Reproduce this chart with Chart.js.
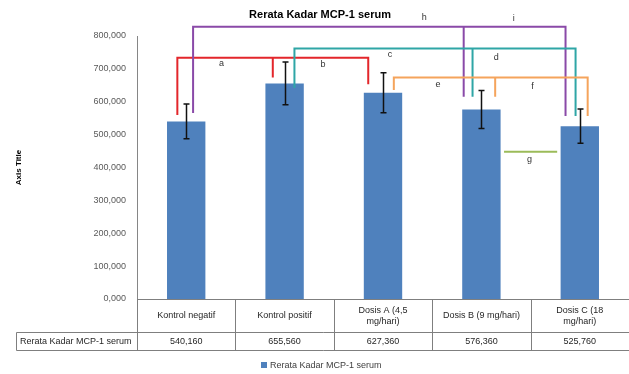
<!DOCTYPE html>
<html>
<head>
<meta charset="utf-8">
<script src="https://cdn.jsdelivr.net/npm/chart.js@4/dist/chart.umd.min.js"></script>
<style>
  html, body { margin: 0; padding: 0; background: #ffffff; }
  #wrap { width: 629px; height: 374px; }
</style>
</head>
<body>
<div id="wrap"><canvas id="c" width="629" height="374"></canvas></div>
<script>
// Groups, each split into the lines shown in the table cell
const categories = [
  ['Kontrol negatif'],
  ['Kontrol positif'],
  ['Dosis A (4,5', 'mg/hari)'],
  ['Dosis B (9 mg/hari)'],
  ['Dosis C (18', 'mg/hari)']
];
const seriesName = 'Rerata Kadar MCP-1 serum';
const meanValues = [540.16, 655.56, 627.36, 576.36, 525.76];
const errorValues = [53, 65, 61, 58, 52];
const yTickMin = 0;
const yTickMax = 800;
const yTickStep = 100;

// Significance brackets: horizontal level and leg ends in value units,
// leg positions in category-index units
const bracketLevels = [734, 828, 762, 674];
const bracketLegs = [
  [[-0.09, 560], [0.88, 674], [1.85, 653]],
  [[0.07, 566], [2.82, 615], [3.855, 557]],
  [[1.10, 642], [2.91, 615], [3.957, 557]],
  [[2.11, 636], [3.14, 615], [4.08, 557]]
];
const bracketLabels = [
  [['a', 0.36, 717], ['b', 1.39, 712]],
  [['h', 2.42, 855], ['i', 3.33, 852]],
  [['c', 2.07, 744], ['d', 3.15, 734]],
  [['e', 2.56, 653], ['f', 3.52, 647]]
];
const bracketColors = ['#e3262b', '#8a4aa8', '#2fa6a6', '#f5a45c'];
// Single comparison line between the last two groups
const pairLine = { from: 3.23, to: 3.77, level: 448, label: 'g', labelX: 3.49, labelY: 425 };
const pairColor = '#9bbb59';

const FONT = '"Liberation Sans", Arial, sans-serif';
const fmt = v => Number(v).toFixed(3).replace('.', ',');

const extras = {
  id: 'extras',
  afterDatasetsDraw(chart) {
    const ctx = chart.ctx;
    const xs = chart.scales.x, ys = chart.scales.y;
    const meta = chart.getDatasetMeta(0);
    ctx.save();
    // error bars
    ctx.strokeStyle = '#111111';
    ctx.lineWidth = 1.5;
    meta.data.forEach((bar, i) => {
      const x = Math.round(bar.x) + 0.5;
      const t = ys.getPixelForValue(meanValues[i] + errorValues[i]);
      const b = ys.getPixelForValue(meanValues[i] - errorValues[i]);
      ctx.beginPath();
      ctx.moveTo(x, t); ctx.lineTo(x, b);
      ctx.moveTo(x - 3, t); ctx.lineTo(x + 3, t);
      ctx.moveTo(x - 3, b); ctx.lineTo(x + 3, b);
      ctx.stroke();
    });
    ctx.restore();
  },
  afterDraw(chart) {
    const ctx = chart.ctx;
    const xs = chart.scales.x, ys = chart.scales.y;
    const area = chart.chartArea;
    ctx.save();

    // brackets
    ctx.lineWidth = 2;
    ctx.lineCap = 'butt';
    bracketLevels.forEach((lvl, k) => {
      const yl = ys.getPixelForValue(lvl);
      const legX = bracketLegs[k].map(l => xs.getPixelForValue(l[0]));
      ctx.strokeStyle = bracketColors[k];
      ctx.beginPath();
      ctx.moveTo(Math.min(...legX) - 1, yl);
      ctx.lineTo(Math.max(...legX) + 1, yl);
      bracketLegs[k].forEach((l, j) => {
        ctx.moveTo(legX[j], yl);
        ctx.lineTo(legX[j], ys.getPixelForValue(l[1]));
      });
      ctx.stroke();
    });
    ctx.strokeStyle = pairColor;
    ctx.beginPath();
    const gy = ys.getPixelForValue(pairLine.level);
    ctx.moveTo(xs.getPixelForValue(pairLine.from), gy);
    ctx.lineTo(xs.getPixelForValue(pairLine.to), gy);
    ctx.stroke();

    ctx.fillStyle = '#333333';
    ctx.font = '9px ' + FONT;
    ctx.textAlign = 'center';
    ctx.textBaseline = 'middle';
    bracketLabels.forEach(group => group.forEach(([txt, cx, cy]) => {
      ctx.fillText(txt, xs.getPixelForValue(cx), ys.getPixelForValue(cy));
    }));
    ctx.fillText(pairLine.label, xs.getPixelForValue(pairLine.labelX), ys.getPixelForValue(pairLine.labelY));

    // title
    ctx.fillStyle = '#000000';
    ctx.font = 'bold 11px ' + FONT;
    ctx.fillText(seriesName, 320, 15);

    // data table under the plot
    const top = Math.round(area.bottom) + 0.5;
    const mid = top + 33;
    const bot = top + 51;
    const right = area.right + 2;
    const headLeft = 16.5;
    ctx.strokeStyle = '#7f7f7f';
    ctx.lineWidth = 1;
    ctx.beginPath();
    ctx.moveTo(area.left, top); ctx.lineTo(right, top);
    ctx.moveTo(headLeft, mid); ctx.lineTo(right, mid);
    ctx.moveTo(headLeft, bot); ctx.lineTo(right, bot);
    ctx.moveTo(headLeft, mid); ctx.lineTo(headLeft, bot);
    for (let i = 0; i <= categories.length; i++) {
      const bx = Math.round(xs.getPixelForValue(i - 0.5)) + 0.5;
      ctx.moveTo(bx, top); ctx.lineTo(bx, bot);
    }
    ctx.stroke();

    ctx.fillStyle = '#262626';
    ctx.font = '9px ' + FONT;
    ctx.textAlign = 'center';
    categories.forEach((lines, i) => {
      const cx = xs.getPixelForValue(i);
      const cy = (top + mid) / 2;
      const lh = 10.5;
      lines.forEach((ln, j) => {
        ctx.fillText(ln, cx, cy + (j - (lines.length - 1) / 2) * lh);
      });
      ctx.fillText(fmt(meanValues[i]), cx, (mid + bot) / 2);
    });
    ctx.textAlign = 'left';
    ctx.fillText(seriesName, 20, (mid + bot) / 2);

    // legend
    ctx.fillStyle = '#4f81bd';
    ctx.fillRect(261, 362, 6, 6);
    ctx.fillStyle = '#404040';
    ctx.fillText(seriesName, 270, 365.5);

    ctx.restore();
  }
};

new Chart(document.getElementById('c'), {
  type: 'bar',
  data: {
    labels: categories.map(c => c.join(' ')),
    datasets: [{
      label: seriesName,
      data: meanValues,
      backgroundColor: '#4f81bd',
      borderWidth: 0,
      barPercentage: 0.39,
      categoryPercentage: 1.0
    }]
  },
  options: {
    responsive: false,
    animation: false,
    devicePixelRatio: 1,
    layout: { padding: { top: 36, bottom: 75, left: 0, right: 0 } },
    plugins: {
      legend: { display: false },
      title: { display: false },
      tooltip: { enabled: false }
    },
    scales: {
      x: {
        display: false,
        offset: true
      },
      y: {
        min: yTickMin,
        max: yTickMax,
        ticks: {
          stepSize: yTickStep,
          padding: 11,
          color: '#595959',
          font: { family: FONT, size: 9 },
          callback: v => fmt(v)
        },
        grid: { display: false, drawTicks: false },
        border: { display: true, color: '#868686', width: 1 },
        title: {
          display: true,
          text: 'Axis Title',
          color: '#000000',
          font: { family: FONT, size: 8, weight: 'bold' },
          padding: { top: 14, bottom: 0 }
        },
        afterFit: s => { s.width = 137; }
      }
    }
  },
  plugins: [extras]
});
</script>
</body>
</html>
